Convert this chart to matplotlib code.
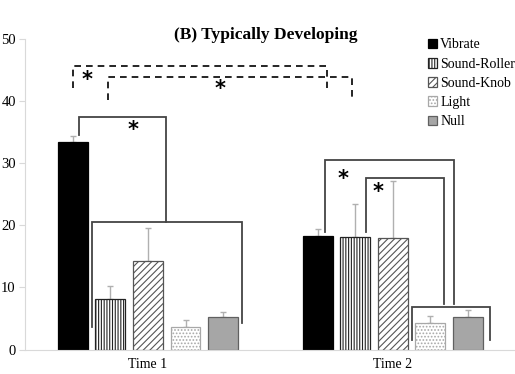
import numpy as np
import matplotlib
matplotlib.use('Agg')
import matplotlib.pyplot as plt

plt.rcParams['font.family'] = ['Liberation Serif', 'DejaVu Serif']
plt.rcParams['hatch.linewidth'] = 0.8

# data
times = ['Time 1', 'Time 2']
conditions = ['Vibrate', 'Sound-Roller', 'Sound-Knob', 'Light', 'Null']
means = {
    'Vibrate':      [33.4, 18.3],
    'Sound-Roller': [8.1, 18.1],
    'Sound-Knob':   [14.2, 17.9],
    'Light':        [3.7, 4.3],
    'Null':         [5.2, 5.2],
}
errs = {
    'Vibrate':      [1.0, 1.1],
    'Sound-Roller': [2.2, 5.3],
    'Sound-Knob':   [5.3, 9.2],
    'Light':        [1.1, 1.1],
    'Null':         [0.9, 1.1],
}

# bracket annotations: (x_left, x_right, y_top, y_left_end, y_right_end)
solid_brackets = [
    (-0.282, 0.073, 37.4, 34.6, 20.5),
    (-0.229, 0.384, 20.5, 3.6, 4.2),
    (0.722, 1.249, 30.5, 18.9, 7.4),
    (0.890, 1.208, 27.7, 18.9, 7.4),
    (1.078, 1.396, 6.8, 1.6, 1.6),
]
dashed_brackets = [
    (-0.306, 0.731, 45.6, 42.2, 42.2),
    (-0.163, 0.833, 43.9, 40.2, 40.2),
]
stars = [(-0.061, 35.3), (-0.249, 43.4), (0.294, 41.9), (0.796, 27.4), (0.939, 25.3)]

styles = {
    'Vibrate':      dict(color='black', edgecolor='black'),
    'Sound-Roller': dict(color='white', edgecolor='#222222', hatch='||||||'),
    'Sound-Knob':   dict(color='white', edgecolor='#555555', hatch='/////'),
    'Light':        dict(color='white', edgecolor='#a8a8a8', hatch='.....'),
    'Null':         dict(color='#a6a6a6', edgecolor='#606060'),
}

fig = plt.figure(figsize=(5.15, 3.74), dpi=100)
ax = fig.add_axes([0.0495, 0.0655, 0.951, 0.830])

x = np.arange(len(times))
pitch = 0.1535
width = 0.122
for j, c in enumerate(conditions):
    pos = x + (j - 2) * pitch
    ax.bar(pos, means[c], width, label=c, linewidth=0.9, zorder=2, **styles[c])
    ax.errorbar(pos, means[c], yerr=[np.zeros(2), errs[c]], fmt='none',
                ecolor='#b0b0b0', elinewidth=1, capsize=2.5, capthick=1, zorder=1)

for x1, x2, y, y1, y2 in solid_brackets:
    ax.plot([x1, x1, x2, x2], [y1, y, y, y2], color='#444444', lw=1.3,
            solid_joinstyle='miter', zorder=3)
for x1, x2, y, y1, y2 in dashed_brackets:
    ax.plot([x1, x1, x2, x2], [y1, y, y, y2], color='black', lw=1.2,
            dashes=(4, 3), zorder=3)
for sx, sy in stars:
    ax.text(sx, sy, '*', ha='center', va='center', fontsize=15, fontweight='bold',
            family='DejaVu Sans')

ax.set_xlim(-0.5, 1.5)
ax.set_ylim(0, 50)
ax.set_yticks(range(0, 51, 10))
ax.set_xticks(x)
ax.set_xticklabels(times, fontsize=10)
ax.tick_params(axis='x', length=0, pad=6)
ax.tick_params(axis='y', length=4, color='#d9d9d9', labelsize=10.5, pad=3)
for s in ['top', 'right']:
    ax.spines[s].set_visible(False)
for s in ['left', 'bottom']:
    ax.spines[s].set_color('#d9d9d9')

ax.set_title('(B) Typically Developing', fontsize=12.5, fontweight='bold', x=0.49, y=1.0, pad=0)

leg = ax.legend(loc='upper left', bbox_to_anchor=(0.81, 1.02), frameon=False, fontsize=10,
                handlelength=0.7, handleheight=0.7, handletextpad=0.2, labelspacing=0.45,
                borderaxespad=0)

fig.savefig('out.png', dpi=100)
